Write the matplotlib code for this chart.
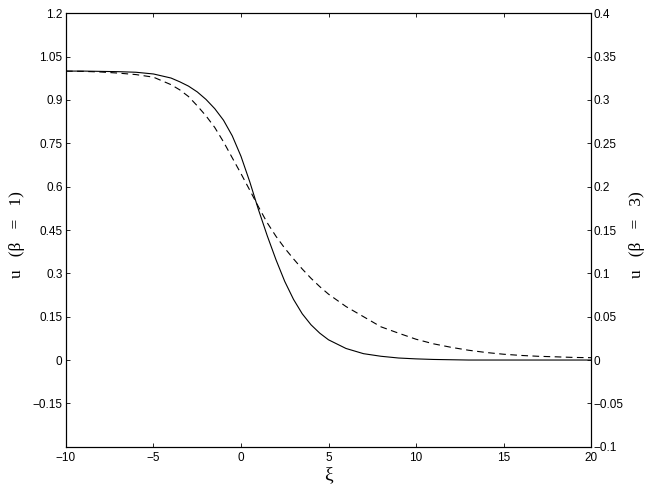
import matplotlib
matplotlib.use("Agg")
import matplotlib.pyplot as plt

plt.rcParams.update({
    "font.family": "Liberation Sans",
    "font.size": 8.5,
    "axes.linewidth": 0.8,
})

# xi grid, shared by both curves
xi = [-10, -9, -8, -7, -6, -5, -4,
      -3.5, -3, -2.5, -2, -1.5, -1, -0.5, 0, 0.5, 1, 1.5, 2, 2.5, 3, 3.5, 4,
      4.5, 5, 6, 7, 8, 9, 10, 11, 12, 13, 14, 15, 16, 17, 18, 19, 20]

# u for beta = 1 (left axis)
u_beta1 = [1.0, 1.0, 0.999, 0.998, 0.996, 0.99, 0.976,
           0.963, 0.948, 0.928, 0.902, 0.870, 0.830, 0.776, 0.705, 0.617, 0.52,
           0.43, 0.347, 0.272, 0.21, 0.16, 0.122,
           0.093, 0.07, 0.04, 0.022, 0.013, 0.007, 0.004, 0.002, 0.001,
           0, 0, 0, 0, 0, 0, 0, 0]

# u for beta = 3 (right axis)
u_beta3 = [0.3333, 0.333, 0.3323, 0.331, 0.3293, 0.3263, 0.3177,
           0.3117, 0.304, 0.2933, 0.2817, 0.2683, 0.2517, 0.2333, 0.215, 0.196,
           0.1767, 0.1583, 0.1427, 0.129, 0.1167, 0.105, 0.0943,
           0.0847, 0.076, 0.0617, 0.05, 0.0383, 0.031, 0.024, 0.0187, 0.0147,
           0.0113, 0.0087, 0.0067, 0.0053, 0.0043, 0.0037, 0.003, 0.0027]

xticks = [-10, -5, 0, 5, 10, 15, 20]
left_ticks = [1.2, 1.05, 0.9, 0.75, 0.6, 0.45, 0.3, 0.15, 0, -0.15]
right_ticks = [0.4, 0.35, 0.3, 0.25, 0.2, 0.15, 0.1, 0.05, 0, -0.05, -0.1]


def fmt(v):
    return ("%g" % v).replace("-", "\u2212")


fig = plt.figure(figsize=(6.54, 4.91), dpi=100)
ax = fig.add_axes([0.1009, 0.0902, 0.8028, 0.8827])
ax2 = ax.twinx()

ax.plot(xi, u_beta1, "-", color="black", lw=0.8)
ln, = ax2.plot(xi, u_beta3, "--", color="black", lw=0.8)
ln.set_dashes((6, 4))

ax.set_xlim(-10, 20)
ax.set_ylim(-0.3, 1.2)
ax2.set_ylim(-0.1, 0.4)

ax.set_xticks(xticks)
ax.set_xticklabels([fmt(v) for v in xticks])
ax.set_yticks(left_ticks)
ax.set_yticklabels([fmt(v) for v in left_ticks])
ax2.set_yticks(right_ticks)
ax2.set_yticklabels([fmt(v) for v in right_ticks])

ax.tick_params(axis="x", direction="in", length=3, width=0.6, top=True, pad=3.5)
ax.tick_params(axis="y", direction="in", length=3, width=0.6, pad=2.5)
ax2.tick_params(axis="y", direction="in", length=3, width=0.6, pad=2)

# MATLAB-style spaced labels
lab_font = dict(family="Liberation Serif", size=12.5)
ax.set_ylabel("u   (\u03b2   =   1)", fontdict=lab_font, va="center")
ax.yaxis.set_label_coords(-0.093, 0.49)
ax2.set_ylabel("u   (\u03b2   =   3)", fontdict=lab_font, rotation=90, va="center")
ax2.yaxis.set_label_coords(1.088, 0.49)
ax.set_xlabel("\u03be", fontdict=dict(family="Liberation Serif", size=14), labelpad=2)

fig.savefig("out.png", dpi=100)
